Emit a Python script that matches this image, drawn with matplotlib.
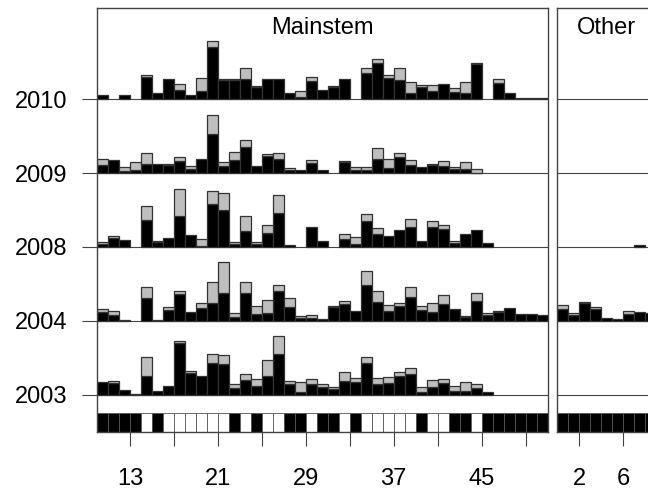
import numpy as np
import matplotlib
matplotlib.use("Agg")
from matplotlib import pyplot as plt
from matplotlib.patches import Rectangle

plt.rcParams['font.family'] = ['Liberation Sans', 'DejaVu Sans']

# week bins, left edges
weeks_main = np.arange(10, 51)
weeks_other = np.arange(0, 9)
years = ["2003", "2004", "2008", "2009", "2010"]

# mainstem: black (lower) and gray (upper) parts of each stacked bar
main_black = {
    "2010": [4, 0, 4, 0, 22.7, 6.7, 20, 9.3, 4.3, 8.7, 52, 19.3, 19.3, 20.3, 12, 20, 20, 6.7, 2.7, 18.3,
             9.3, 12.7, 20, 0, 26.7, 36, 21, 19.3, 6.7, 12, 8.7, 15, 7, 6.7, 35.3, 0, 16, 6.7, 1, 1, 1],
    "2009": [8.3, 12.7, 1.7, 2.7, 9.3, 9.3, 8.3, 12.3, 4.3, 14, 39.3, 6.7, 13.3, 26, 7.3, 16.7, 14.3, 3.3, 3.3, 10,
             2.7, 0, 11, 3.3, 3.3, 14.3, 5, 16, 7.7, 6, 8.3, 6.7, 4.3, 4.3, 0.5, 0, 0, 0, 0, 0, 0],
    "2008": [3, 9, 6.7, 0, 26.7, 5, 9, 31.3, 11.7, 1.3, 43.3, 36.7, 3.3, 15.7, 3.3, 14, 34, 2.3, 0, 20,
             6.3, 0, 8.3, 2.7, 26, 13.3, 11, 17.3, 20, 6, 20, 17.7, 4.3, 12.7, 17.3, 4, 0, 0, 0, 0, 0],
    "2004": [9, 5.7, 0.7, 0, 22.3, 1, 10.7, 26.7, 8.3, 12.3, 17.3, 28, 4, 28, 6.3, 7.3, 30, 14, 3, 3,
             1.7, 13.3, 16.7, 9.3, 35.7, 18.3, 9.3, 15, 24, 10.7, 8.3, 16.7, 11.7, 3.3, 19.3, 6, 8.3, 12.3, 7, 7, 5.5],
    "2003": [12.7, 11.7, 4.3, 1, 18.3, 3.3, 8.3, 51.7, 21.7, 18.7, 31.7, 31, 7, 14.3, 8.3, 18.3, 41, 10.3, 2.7, 10.3,
             8, 5.7, 14, 12.3, 31.7, 10.7, 11.3, 19, 20.7, 2.3, 8, 11.7, 3.3, 4, 6.7, 2.3, 0, 0, 0, 0, 0],
}
main_gray = {
    "2010": [0, 0, 0, 0, 1.7, 0, 0, 5.7, 0, 13, 6.3, 0.7, 0.7, 10.7, 1.3, 0, 0, 0, 6, 3.7,
             0, 0.7, 0, 0, 4.3, 4, 3.3, 11.7, 11, 2.3, 5.7, 0, 4, 11, 0.7, 0, 4, 0, 0, 0, 0],
    "2009": [5.7, 0, 4, 8.3, 11.3, 0, 0.7, 4.3, 3.3, 0, 19, 4.3, 8.3, 7.3, 0, 2.7, 6.3, 1.7, 0, 2.7,
             0, 0, 1, 2.7, 2.7, 11, 8.7, 4, 5, 0, 1, 5, 2.3, 7.3, 3.7, 0, 0, 0, 0, 0, 0],
    "2008": [1.7, 2.3, 0, 0, 14, 1.3, 0, 27, 0, 7, 13, 17.3, 1.3, 15.7, 1.3, 8.3, 17.7, 0, 0, 0,
             0, 0, 4.3, 7.3, 7.3, 6, 0, 0, 8.3, 0, 6, 4, 1.7, 0, 0, 0, 0, 0, 0, 0, 0],
    "2004": [2.3, 4.3, 0, 0, 11, 0, 3.3, 3.3, 0, 5.7, 21.7, 30.3, 3.3, 11, 8.3, 13.3, 5.7, 9, 2, 2.7,
             0, 1, 3.3, 0, 13.7, 11, 6.3, 2.3, 10, 4.3, 9, 9, 0, 1.7, 8.3, 1.7, 1.7, 0, 0, 0, 0],
    "2003": [0, 2, 0, 0, 19.3, 0, 0, 2, 1.7, 0, 8.7, 8.3, 4, 6.7, 7.7, 16.7, 17.3, 3.3, 10, 5.7,
             2.7, 2.3, 8.3, 4.3, 5.7, 6, 6.7, 4, 5.7, 5.7, 6.7, 4, 5, 8.3, 4, 0, 0, 0, 0, 0, 0],
}

other_black = {
    "2010": [0, 0, 0, 0, 0, 0, 0, 0, 0],
    "2009": [0, 0, 0, 0, 0, 0, 0, 0, 0],
    "2008": [0, 0, 0, 0, 0, 0, 0, 2.3, 0],
    "2004": [11.5, 6, 17.5, 12, 2.8, 1.7, 7.2, 8.5, 8],
    "2003": [0, 0, 0, 0, 0, 0, 0, 0, 0],
}
other_gray = {
    "2010": [0, 0, 0, 0, 0, 0, 0, 0, 0],
    "2009": [0, 0, 0, 0, 0, 0, 0, 0, 0],
    "2008": [0, 0, 0, 0, 0, 0, 0, 0, 0],
    "2004": [4.7, 1.7, 1.7, 1.5, 0, 0, 2.8, 0, 0],
    "2003": [0, 0, 0, 0, 0, 0, 0, 0, 0],
}

# bottom strip: 1 = black box, 0 = white box
strip_main = [1, 1, 1, 1, 0, 1, 0, 0, 0, 0, 0, 0, 1, 0, 1, 0, 0, 1, 1, 0,
              1, 1, 0, 1, 0, 0, 0, 0, 0, 1, 0, 0, 1, 1, 0, 1, 1, 1, 1, 1, 1]
strip_other = [1, 1, 1, 1, 1, 1, 1, 1, 1]

main_ticks = np.arange(13, 50, 4)
main_ticklabels = ["13", "", "21", "", "29", "", "37", "", "45", ""]
other_ticks = [2, 6]
other_ticklabels = ["2", "6"]

row_base = 37.5
row_gap = 73.8
strip_top = 18.7
ytop = 424
edge = "#333333"
frame = "#444444"
light = "#BEBEBE"

W, H = 648, 491
fig = plt.figure(figsize=(W / 100, H / 100), dpi=100)
ax1 = fig.add_axes([97 / W, (H - 432) / H, (547.5 - 97) / W, 424 / H])
ax2 = fig.add_axes([557.3 / W, (H - 432) / H, 99 / W, 424 / H])


def draw_panel(ax, weeks, blk, gry, strip, xlim, title, tx):
    for i, yr in enumerate(years):
        base = row_base + i * row_gap
        ax.axhline(base, color=frame, lw=0.8, zorder=1)
        b = np.array(blk[yr], dtype=float)
        g = np.array(gry[yr], dtype=float)
        show = b > 0
        ax.bar(weeks[show], b[show], width=1, align='edge', bottom=base,
               color='black', edgecolor=edge, linewidth=0.9, zorder=2)
        show = g > 0
        ax.bar(weeks[show], g[show], width=1, align='edge', bottom=base + b[show],
               color=light, edgecolor=edge, linewidth=0.9, zorder=2)
    for w, s in zip(weeks, strip):
        ax.add_patch(Rectangle((w, 0), 1, strip_top, facecolor='black' if s else 'white',
                               edgecolor='#555555', linewidth=0.6, zorder=2))
    ax.set_xlim(*xlim)
    ax.set_ylim(0, ytop)
    ax.text(tx, 404, title, ha='center', va='center', fontsize=17)
    for sp in ax.spines.values():
        sp.set_color(frame)
        sp.set_linewidth(1.0)
    ax.tick_params(axis='x', direction='out', length=10, width=0.8, color=frame,
                   labelsize=17, pad=16)


draw_panel(ax1, weeks_main, main_black, main_gray, strip_main, (10, 51), "Mainstem", 30.5)
draw_panel(ax2, weeks_other, other_black, other_gray, strip_other, (0, 9), "Other", 4.5)

ax1.set_xticks(main_ticks)
ax1.set_xticklabels(main_ticklabels)
ax1.set_yticks([row_base + i * row_gap for i in range(len(years))])
ax1.set_yticklabels(years)
ax1.tick_params(axis='y', direction='out', length=11, width=0.8, color=frame,
                labelsize=17, pad=10)

ax2.set_xticks(other_ticks)
ax2.set_xticklabels(other_ticklabels)
ax2.set_yticks([])

fig.savefig("out.png", dpi=100)
